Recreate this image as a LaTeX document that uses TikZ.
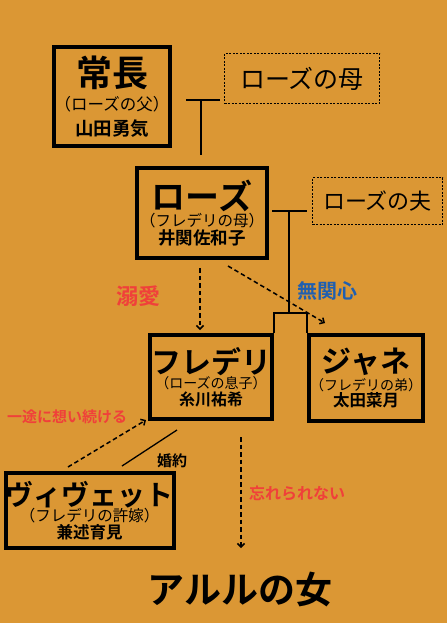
\documentclass[tikz,border=0pt]{standalone}
\usepackage{fontspec}
\usetikzlibrary{arrows.meta,positioning}
\newfontfamily\jp{Noto Sans CJK JP}[BoldFont={Noto Sans CJK JP Bold}]
\definecolor{bgorange}{RGB}{219,151,52}
\definecolor{lovered}{RGB}{240,64,58}
\definecolor{coolblue}{RGB}{31,95,176}

\newcommand{\tgap}{0pt}
\newcommand{\sgap}{0pt}
\newcommand{\subsize}{15.5}
\newcommand{\namesize}{17.5}
\newcommand{\pname}[4][34]{{\fontsize{#1}{#1}\selectfont\bfseries #2}\\[\tgap]
  {\fontsize{\subsize}{\subsize}\selectfont （#3）}\\[\sgap]{\fontsize{\namesize}{\namesize}\selectfont\bfseries #4}}

\tikzset{
    person/.style={draw, line width=4pt, inner sep=0pt, align=center, font=\jp},
    title gap/.code={\def\tgap{#1}},
    sub gap/.code={\def\sgap{#1}},
    sub size/.code={\def\subsize{#1}},
    name size/.code={\def\namesize{#1}},
    other/.style={draw, dashed, line width=0.7pt, dash pattern=on 2pt off 1.5pt, inner sep=0pt, font=\jp},
    tie/.style={line width=1.3pt},
    feel/.style={line width=1.5pt, dash pattern=on 4.5pt off 3pt, -{Straight Barb[length=3.5pt,width=7pt]}},
    feeling/.style={font=\jp\bfseries, inner sep=0pt}
}

\begin{document}
\begin{tikzpicture}[x=1pt,y=-1pt]
        \fill[bgorange] (0,0) rectangle (447,623);
        \useasboundingbox (0,0) rectangle (447,623);

        \node[person, minimum width=116pt, minimum height=99pt, title gap=6pt, sub gap=6pt,
            sub size=16.5, name size=18.5]
            (tsunenaga) at (112,96.5) {\pname[36]{常長}{ローズの父}{山田勇気}};
        \node[other, minimum width=155pt, minimum height=50pt, font=\jp\fontsize{25}{25}\selectfont]
            (rosemother) at (302,78.5) {ローズの母};
        \node[person, minimum width=130pt, minimum height=90pt, sub gap=1pt] (rose) at (202,213)
            {\pname{ローズ}{フレデリの母}{井関佐和子}};
        \node[other, minimum width=130pt, minimum height=47pt, font=\jp\fontsize{22}{22}\selectfont]
            (rosehusband) at (377.5,201) {ローズの夫};
        \node[person, minimum width=122pt, minimum height=84pt, sub size=14, name size=16,
            sub gap=1pt] (fred) at (211,377)
            {\pname[30]{フレデリ}{ローズの息子}{糸川祐希}};
        \node[person, minimum width=114pt, minimum height=86pt, sub size=14, name size=16.5,
            title gap=2pt] (janet) at (366,378)
            {\pname[30]{ジャネ}{フレデリの弟}{太田菜月}};
        \node[person, minimum width=167pt, minimum height=75pt, name size=16.5] (vivette) at (89.5,510.5)
            {\pname[28]{ヴィヴェット}{フレデリの許嫁}{兼述育見}};
        \node[font=\jp\bfseries\fontsize{37}{37}\selectfont] (arles) at (240,590) {アルルの女};

        % parents
        \coordinate (tm) at (201,100);
        \draw[tie] (tm) +(-15,0) -- +(19,0);
        \draw[tie] (tm) -- ([shift={(-1,-11)}]rose.north);

        \coordinate (rh) at (289,211);
        \coordinate (kids) at (289,313);
        \draw[tie] (rh) +(-17,0) -- +(18,0);
        \draw[tie] (rh) -- (kids);
        \draw[tie] (fred.north east) |- (kids) -| (janet.north west);

        % feelings
        \draw[feel] ([shift={(-2,8)}]rose.south) -- ([shift={(-11,-3)}]fred.north);
        \node[feeling, text=lovered, font=\jp\bfseries\fontsize{22}{22}\selectfont] (dekiai) at (138,296) {溺愛};
        \draw[feel] ([shift={(26,6)}]rose.south) -- ([shift={(-41,-10)}]janet.north);
        \node[feeling, text=coolblue, font=\jp\bfseries\fontsize{20}{20}\selectfont] (mukanshin) at (327,291) {無関心};

        \draw[feel] ([shift={(-21.5,-4)}]vivette.north) -- ([shift={(-2,-1)}]fred.south west);
        \node[feeling, text=lovered, font=\jp\bfseries\fontsize{15}{15}\selectfont] (ichizu) at (67,417) {一途に想い続ける};
        \draw[tie] ([shift={(32.5,-5)}]vivette.north) -- ([shift={(-34,9)}]fred.south);
        \node[feeling, font=\jp\bfseries\fontsize{15}{15}\selectfont] (konyaku) at (172,461) {婚約};

        \draw[feel] ([shift={(30,16)}]fred.south) -- ++(0,111);
        \node[feeling, text=lovered, font=\jp\bfseries\fontsize{16}{16}\selectfont] (wasure) at (297,493) {忘れられない};

    \end{tikzpicture}
\end{document}
